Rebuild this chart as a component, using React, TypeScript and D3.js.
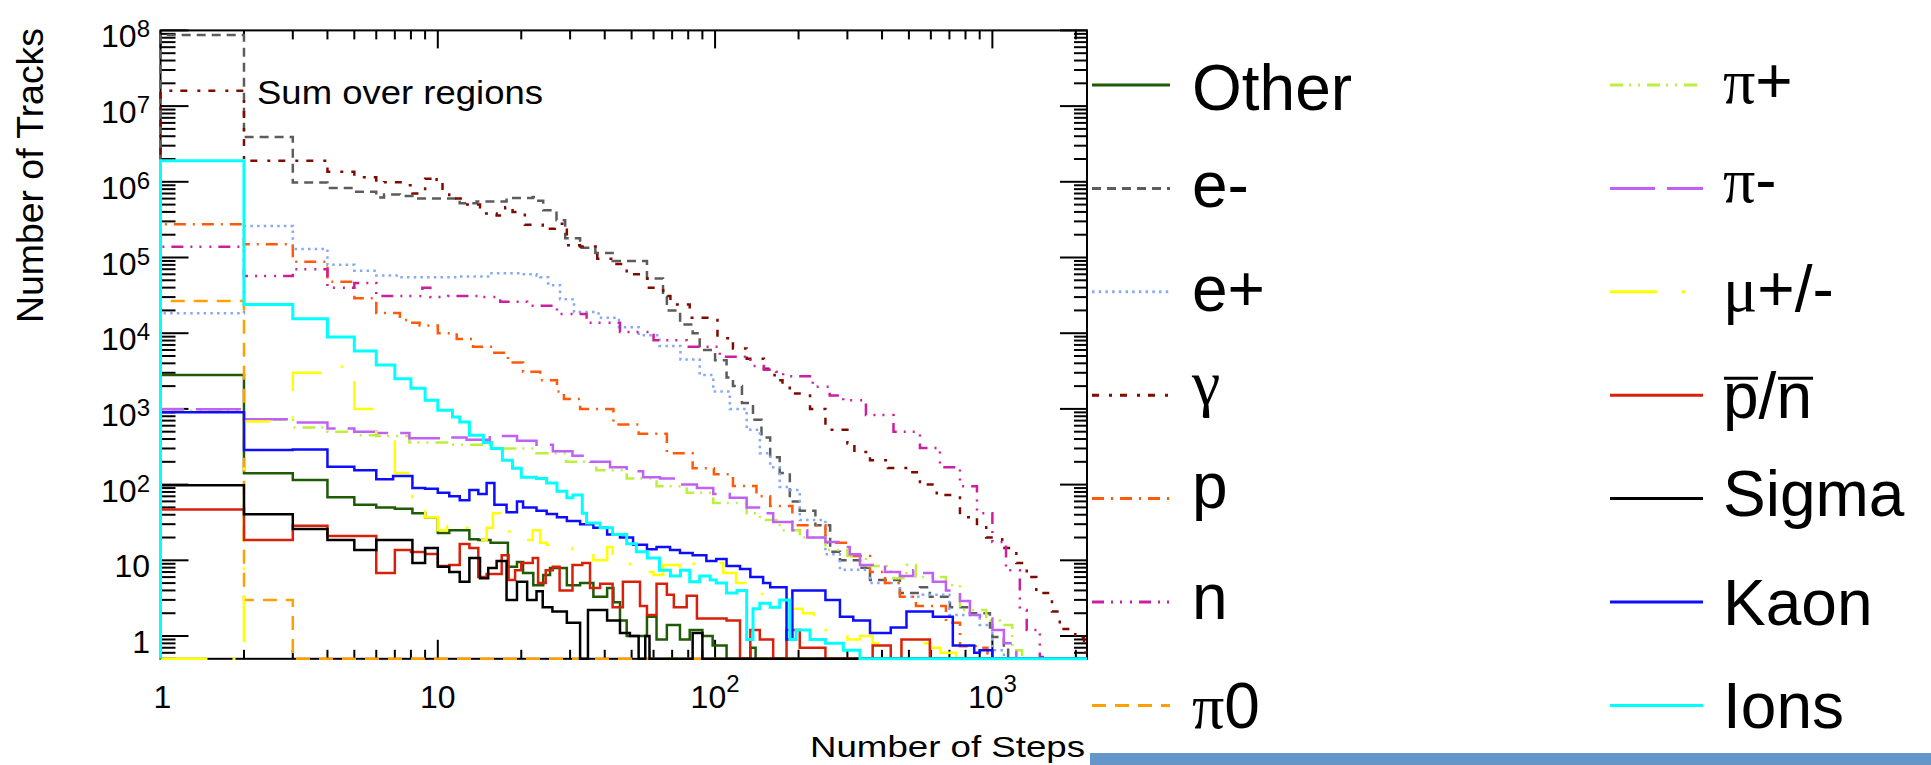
import React from 'react';
import * as d3 from 'd3';

type Pt = [number, number];

// ---------- axis domains & ticks ----------
const X_MIN = 1;
const X_MAX = 2194;
const Y_MIN = 0.5;
const Y_MAX = 1e8;
const xMajorLabels: [number, string, string][] = [[1, '1', ''], [10, '10', ''], [100, '10', '2'], [1000, '10', '3']];
const yMajorLabels: [number, string, string][] = [
  [1, '1', ''], [10, '10', ''], [1e2, '10', '2'], [1e3, '10', '3'], [1e4, '10', '4'],
  [1e5, '10', '5'], [1e6, '10', '6'], [1e7, '10', '7'], [1e8, '10', '8'],
];

// ---------- series (bin start, tracks) ----------
const other: Pt[] = [[1,2.8e3],[2,141],[3,115],[4,68],[5,54],[6,50],[7,48],[8.1,42],[9,37],[10,23],[11,25],[13,19],[14,18.5],[15.5,17],[17.9,8.2],[19.3,9.5],[20.3,6.8],[22.1,4.7],[24,6.4],[25.4,7.9],[29.2,4.7],[32.6,5],[36.4,3.3],[40.8,4.3],[43,2.8],[45.4,1.6],[48,1],[56.8,1.8],[61.5,0.9],[67,1.4],[74.7,0.9],[81,1.2],[90,1],[98,0.75],[110,0],[134,0.7],[140,0]];
const eMinus: Pt[] = [[1,8.7e7],[2,3.9e6],[3,9.8e5],[4,8.3e5],[5,7.4e5],[6,6.2e5],[6.4,6.8e5],[7.3,6.5e5],[8.1,6.0e5],[12,5.2e5],[13.8,5.5e5],[17.7,6.1e5],[22,6.3e5],[22.7,5.6e5],[24,4.2e5],[26.8,3.1e5],[28.8,1.8e5],[32.6,1.35e5],[37,1.15e5],[42.7,9.0e4],[56.8,5.3e4],[64.9,3.0e4],[67,2.0e4],[74.8,1.3e4],[83,1.0e4],[88,6.0e3],[100,4.4e3],[110,2.6e3],[116,2.0e3],[125,1.2e3],[137,720],[147,420],[158,230],[171,142],[186,60],[202,45],[230,29],[260,13],[282,10],[333,8],[362,5.5],[393,5.5],[464,3.7],[548,4.4],[595,3.3],[703,2.4],[830,2.0],[902,2.0],[980,1.3],[1000,0.97],[1100,0.7],[1140,0]];
const ePlus: Pt[] = [[1,1.83e4],[2,2.6e5],[3,1.3e5],[4,8.0e4],[5,6.7e4],[6,5.8e4],[7.3,5.5e4],[12,5.6e4],[15.4,6.2e4],[19.8,6.0e4],[22.7,5.8e4],[23.4,5.5e4],[25,4.3e4],[27.6,2.8e4],[31,1.9e4],[38,1.6e4],[45,1.2e4],[53,9.4e3],[63,6.8e3],[75,4.5e3],[88,2.8e3],[98.5,1.7e3],[113,1.0e3],[130,530],[145,260],[158,170],[171,93],[186,85],[202,34],[250,12],[282,7.5],[362,5],[464,3.3],[560,3.5],[700,1.9],[900,1.4],[1000,0.65],[1100,0]];
const gamma: Pt[] = [[1,1.6e7],[2,1.9e6],[4,1.36e6],[5,1.15e6],[6,9.6e5],[6.4,9.9e5],[7.8,9.0e5],[8.1,7.0e5],[9,1.1e6],[9.4,1.2e6],[9.9,1.0e6],[10.4,7.4e5],[11,6.0e5],[12.5,5.0e5],[14.2,3.8e5],[16.3,3.6e5],[17.5,4.6e5],[18.6,4.0e5],[20.6,2.7e5],[23.9,2.4e5],[26.4,2.8e5],[29.2,1.45e5],[32.6,1.4e5],[37.6,9.6e4],[43,8.2e4],[48,6.0e4],[57,4.0e4],[65,3.1e4],[69,2.4e4],[81,1.6e4],[102,8.6e3],[116,6.3e3],[130,4.6e3],[150,3.4e3],[158,2.8e3],[164,2.4e3],[175,1.9e3],[186,1.6e3],[220,1.0e3],[250,530],[300,350],[318,270],[362,210],[420,166],[495,146],[548,100],[630,73],[764,37],[880,29],[950,20],[1085,14.5],[1220,9.2],[1330,6],[1440,3.7],[1640,2.1],[1750,1.24],[1990,0.95],[2140,0.6]];
const proton: Pt[] = [[1,2.76e5],[2,1.5e5],[3,8.8e4],[4,4.8e4],[5,2.9e4],[6,1.85e4],[7.3,1.5e4],[7.9,1.37e4],[8.6,1.26e4],[10,1.0e4],[11.7,8.4e3],[13.4,6.6e3],[15.8,5.5e3],[17.9,4.1e3],[20.3,3.1e3],[23.4,2.4e3],[26.9,1.7e3],[28.5,1.35e3],[32.6,1.0e3],[43,620],[53,470],[67,260],[83,165],[99,137],[116,96],[141,70],[158,52],[190,29],[250,17],[306,11.4],[362,7],[410,5],[464,3.3],[530,2.5],[680,1.5],[764,0.73],[870,0.7],[960,0]];
const neutron: Pt[] = [[1,1.39e5],[2,5.7e4],[3,7.0e4],[4,4.0e4],[5,4.6e4],[6,3.1e4],[8.8,4.0e4],[9.4,3.0e4],[10.9,3.1e4],[14.2,3.0e4],[16.8,2.6e4],[21,2.3e4],[26.9,1.8e4],[34.4,1.37e4],[45.4,1.04e4],[60,8.1e3],[79,6.6e3],[104,4.9e3],[134,3.7e3],[150,3.3e3],[166,3.1e3],[176,2.7e3],[225,1.96e3],[259,1.5e3],[290,1.3e3],[350,830],[440,500],[548,305],[647,170],[764,95],[880,42],[1000,17.5],[1120,7.4],[1256,2.2],[1330,1.2],[1483,0.53],[1520,0]];
const pi0: Pt[] = [[1,2.66e4],[2,3.0],[3,0]];
const piPlus: Pt[] = [[1,950],[2,720],[3,570],[4,500],[5,450],[6,440],[7.9,360],[10.8,335],[15.4,300],[22.7,260],[29,200],[37.3,155],[48,120],[61.5,95],[79,78],[98.5,57],[130,42],[145,34],[171,25],[202,20],[250,13.7],[300,11.4],[350,8.4],[430,5.8],[490,8.7],[530,6],[680,4.7],[764,2.2],[950,1.6],[1064,1.4],[1180,0.65],[1280,0]];
const piMinus: Pt[] = [[1,990],[2,730],[3,660],[4,550],[5,500],[6,480],[7.9,410],[10.8,420],[12.7,390],[15.4,440],[19.3,380],[22.7,335],[26,275],[30.6,240],[35.4,200],[41.8,170],[48,150],[55,125],[63.3,120],[74.7,100],[86,90],[98.5,75],[113,67],[130,50],[149,42],[162,32],[190,25],[215,20],[250,17.5],[282,15],[306,12],[333,8.7],[370,8.2],[410,7],[464,6.2],[518,7.4],[548,6.8],[610,5.2],[680,4],[764,2.9],[830,1.9],[902,1.7],[1000,1.2],[1100,0.8],[1220,0]];
const muon: Pt[] = [[1,0],[2,680],[3,3.0e3],[4,3.6e3],[5,1.0e3],[6,370],[7,142],[8.1,68],[9,37],[10,25],[10.8,31],[11.8,27],[13,22],[13.8,18.5],[15,27],[15.8,42],[16.8,34],[17.7,24],[19.8,18.5],[22,25],[23.4,17],[24.7,16],[27,14.5],[30.6,14],[32.6,12.5],[36.4,10],[40.8,15],[42.7,11],[49.3,8],[53.6,7],[60,6.4],[65,8.7],[74.7,7],[79,9],[96,9.2],[107,6.8],[119,5],[132,4],[145,3.6],[171,3],[186,2.3],[207,2],[227,1.6],[250,1.2],[300,0.9],[333,1],[370,0.8],[410,0.7],[520,0.8],[600,0.7],[650,0.6],[740,0]];
const antiNucleon: Pt[] = [[1,47],[2,18.5],[3,28.6],[4,21],[6,6.8],[7,13.7],[8,12.9],[9,12.1],[10,8.4],[11,8.7],[12,16.4],[13,14.5],[14,6],[15,6.6],[17,11.7],[18,5.5],[19,7.4],[20,9.2],[22,10.7],[23,5],[24.5,7.4],[26,8.2],[27.5,4],[30.6,8.7],[33.2,9.2],[35.4,4.3],[38.5,4.9],[42.7,2.4],[46.5,5.2],[53.6,2.5],[56.8,1.9],[61.5,4.9],[67,3.5],[71,2.4],[79,3.4],[86,1.7],[110,1.6],[123,0],[134,1.2],[145,0.9],[162,0],[181,1.2],[202,0.7],[250,0],[370,0.75],[430,0],[470,0.9],[595,0]];
const sigma: Pt[] = [[1,98],[2,40.6],[3,26],[4,18.5],[5,13.7],[6,18.5],[8.1,9.2],[9,14.5],[10,8.2],[11,7],[12,5.2],[13,10.7],[14.2,5.8],[15.2,7.9],[16.3,9.8],[17.7,3],[19.3,5.2],[21,3],[22.7,3.9],[23.9,2.4],[25.9,2.1],[29.2,1.5],[32.6,0],[34.8,2.2],[40.8,1.6],[45.4,1.1],[49.3,1],[53,0],[56,1],[58,0],[83,1.1],[90,0]];
const kaon: Pt[] = [[1,900],[2,286],[3,290],[4,172],[5,155],[6,118],[6.9,130],[8.1,90],[9,88],[10,78],[11,70],[12,62],[13,85],[14,75],[15,105],[16,54],[17.7,43],[19.3,60],[20.3,50],[22.7,45],[24.7,41],[26.9,37],[29.2,33],[32.6,30],[36.4,27],[40.8,22],[45.4,20],[50.6,16],[56.8,14],[61.5,15],[68.8,13.7],[74.7,12.5],[83,11.7],[93,9.8],[101,10.4],[110,8.4],[123,7.7],[134,6],[149,5],[158,4.4],[181,0.9],[190,4],[250,3],[282,1.8],[315,1.6],[362,1.1],[430,1.3],[490,2.1],[610,1.8],[720,0.75],[860,0.6],[900,0.65],[1000,0]];
const ions: Pt[] = [[1,1.9e6],[2,2.4e4],[3,1.55e4],[4,8.9e3],[5,5.8e3],[6,3.8e3],[7,2.5e3],[8,1.88e3],[9,1.3e3],[10,960],[11.3,780],[12,670],[13,450],[14.6,360],[15.6,300],[17.1,210],[18.6,165],[20,125],[22.7,120],[24.7,105],[26.9,82],[29.2,67],[30.7,73],[33.2,42],[34.4,31],[38.5,27],[42.7,22],[48,16.5],[52,13],[57,10.7],[63,7.4],[69,6.2],[75,7.4],[81,5.2],[88,6.2],[96,5.5],[101,5],[110,3.7],[120,4],[130,0.9],[137,2.3],[145,2.7],[158,2.4],[171,3],[186,0.9],[196,1.2],[220,0.9],[250,0.8],[290,0.65],[333,0]];

// ---------- styles ----------
type Series = { data: Pt[]; color: string; dash: string; width: number };
const SERIES: Series[] = [
  { data: other, color: '#1f5a05', dash: '', width: 2.5 },
  { data: eMinus, color: '#5c5c5c', dash: '9,6', width: 2.5 },
  { data: ePlus, color: '#86a9f5', dash: '2.5,4.2', width: 2.5 },
  { data: gamma, color: '#7d0b00', dash: '7,10,3,8', width: 2.5 },
  { data: proton, color: '#ff5a0a', dash: '12,7,2,7', width: 2.5 },
  { data: neutron, color: '#cc1f9c', dash: '12,7,2,7,2,8,2,7', width: 2.5 },
  { data: pi0, color: '#ffa000', dash: '14,9', width: 2.5 },
  { data: piPlus, color: '#bdf03c', dash: '13,6,2,7,2,7', width: 2.5 },
  { data: piMinus, color: '#c060f5', dash: '45,12', width: 2.5 },
  { data: muon, color: '#ffff00', dash: '47,25,3,25', width: 2.5 },
  { data: antiNucleon, color: '#d8200a', dash: '', width: 2.5 },
  { data: sigma, color: '#000000', dash: '', width: 2.5 },
  { data: kaon, color: '#0d0dff', dash: '', width: 2.5 },
  { data: ions, color: '#00ffff', dash: '', width: 3 },
];

type LabelPart = { t: string; greek?: boolean };
type LegendItem = { parts: LabelPart[]; s: number; off: number };
const legendLeftItems: LegendItem[] = [
  { parts: [{ t: 'Other' }], s: 0, off: 25 },
  { parts: [{ t: 'e-' }], s: 1, off: 19 },
  { parts: [{ t: 'e+' }], s: 2, off: 19 },
  { parts: [{ t: 'γ', greek: true }], s: 3, off: 9 },
  { parts: [{ t: 'p' }], s: 4, off: 9 },
  { parts: [{ t: 'n' }], s: 5, off: 17 },
  { parts: [{ t: 'π', greek: true }, { t: '0' }], s: 6, off: 23 },
];
const legendRightItems: LegendItem[] = [
  { parts: [{ t: 'π', greek: true }, { t: '+' }], s: 7, off: 18 },
  { parts: [{ t: 'π', greek: true }, { t: '-' }], s: 8, off: 14 },
  { parts: [{ t: 'μ', greek: true }, { t: '+/-' }], s: 9, off: 19 },
  { parts: [{ t: 'p/n' }], s: 10, off: 23 },
  { parts: [{ t: 'Sigma' }], s: 11, off: 17 },
  { parts: [{ t: 'Kaon' }], s: 12, off: 23 },
  { parts: [{ t: 'Ions' }], s: 13, off: 23 },
];

const SANS = '"Liberation Sans", Arial, Helvetica, sans-serif';
const SERIF = '"Liberation Serif", "Times New Roman", serif';

export default function App() {
  const W = 1931;
  const H = 765;
  const left = 160.5, right = 1087, top = 30.4, bottom = 658.8;
  const x = d3.scaleLog().domain([X_MIN, X_MAX]).range([left, right]);
  const y = d3.scaleLog().domain([Y_MIN, Y_MAX]).range([bottom, top]);

  const line = d3
    .line<Pt>()
    .x((d) => x(d[0]))
    .y((d) => y(Math.max(d[1], Y_MIN)))
    .curve(d3.curveStepAfter);

  const histPath = (data: Pt[]) => {
    const pts: Pt[] = [[data[0][0], 0], ...data, [X_MAX, data[data.length - 1][1]]];
    return line(pts) || '';
  };

  // ticks
  const xTicks: { v: number; major: boolean }[] = [];
  for (let k = 0; k <= 3; k++)
    for (let m = 1; m <= 9; m++) {
      const v = m * Math.pow(10, k);
      if (v <= X_MAX) xTicks.push({ v, major: m === 1 });
    }
  const yTicks: { v: number; major: boolean }[] = [];
  for (let k = -1; k <= 8; k++)
    for (let m = 1; m <= 9; m++) {
      const v = m * Math.pow(10, k);
      if (v >= Y_MIN && v <= Y_MAX) yTicks.push({ v, major: m === 1 });
    }

  const rowY = (i: number) => 85 + i * 103.4;

  const renderLegend = (items: LegendItem[], lx0: number, lx1: number, tx: number) =>
    items.map((it, i) => {
      const s = SERIES[it.s];
      const ly = rowY(i);
      return (
        <g key={`lg-${lx0}-${i}`}>
          <line x1={lx0} x2={lx1} y1={ly} y2={ly} stroke={s.color} strokeWidth={3} strokeDasharray={s.dash || undefined} />
          <text x={tx} y={ly + it.off} fontFamily={SANS} fontSize={64} fill="#000">
            {it.parts.map((p, j) => (
              <tspan key={j} fontFamily={p.greek ? SERIF : SANS}>{p.t}</tspan>
            ))}
          </text>
        </g>
      );
    });

  return (
    <svg width={W} height={H} style={{ position: 'absolute', left: 0, top: 0, display: 'block', background: '#fff' }}>
      <rect x={0} y={0} width={W} height={H} fill="#fff" />
      <defs>
        <clipPath id="plotClip">
          <rect x={left - 2} y={top - 2} width={right - left + 4} height={bottom - top + 4} />
        </clipPath>
      </defs>

      {/* frame */}
      <rect x={left} y={top} width={right - left} height={bottom - top} fill="none" stroke="#000" strokeWidth={2} />

      {/* x ticks bottom & top */}
      {xTicks.map((t, i) => (
        <g key={`xt${i}`} stroke="#000" strokeWidth={2}>
          <line x1={x(t.v)} x2={x(t.v)} y1={bottom} y2={bottom - (t.major ? 19 : 9)} />
          <line x1={x(t.v)} x2={x(t.v)} y1={top} y2={top + (t.major ? 18 : 9)} />
        </g>
      ))}
      {/* y ticks left & right */}
      {yTicks.map((t, i) => (
        <g key={`yt${i}`} stroke="#000" strokeWidth={2}>
          <line x1={left} x2={left + (t.major ? 28 : 15)} y1={y(t.v)} y2={y(t.v)} />
          <line x1={right} x2={right - (t.major ? 27 : 13)} y1={y(t.v)} y2={y(t.v)} />
        </g>
      ))}

      {/* tick labels */}
      {yMajorLabels.map(([v, b, e]) => (
        <text key={`yl${v}`} x={150} y={y(v) + 17} textAnchor="end" fontFamily={SANS} fontSize={32}>
          {b}
          {e && <tspan dy={-10} fontSize={24}>{e}</tspan>}
        </text>
      ))}
      {xMajorLabels.map(([v, b, e]) => (
        <text key={`xl${v}`} x={x(v) + (v === 1 ? 2 : 0)} y={708} textAnchor="middle" fontFamily={SANS} fontSize={32}>
          {b}
          {e && <tspan dy={-16} fontSize={24}>{e}</tspan>}
        </text>
      ))}

      {/* axis titles */}
      <text
        transform="translate(43,175.5) rotate(-90)"
        textAnchor="middle"
        fontFamily={SANS}
        fontSize={37}
        textLength={295}
        lengthAdjust="spacingAndGlyphs"
      >
        Number of Tracks
      </text>
      <text x={810} y={757} fontFamily={SANS} fontSize={30} textLength={275} lengthAdjust="spacingAndGlyphs">
        Number of Steps
      </text>
      <text x={257} y={104} fontFamily={SANS} fontSize={33} textLength={286} lengthAdjust="spacingAndGlyphs">
        Sum over regions
      </text>

      {/* histograms */}
      <g clipPath="url(#plotClip)" fill="none">
        {SERIES.map((s, i) => (
          <path
            key={`s${i}`}
            d={histPath(s.data)}
            stroke={s.color}
            strokeWidth={s.width}
            strokeDasharray={s.dash || undefined}
            strokeLinejoin="miter"
            strokeLinecap="butt"
          />
        ))}
      </g>

      {/* legend */}
      {renderLegend(legendLeftItems, 1092, 1170, 1192)}
      {renderLegend(legendRightItems, 1610, 1703, 1723)}
      {/* overbars for anti-nucleon label */}
      <line x1={1724} x2={1758} y1={rowY(3) - 17} y2={rowY(3) - 17} stroke="#000" strokeWidth={3} />
      <line x1={1778} x2={1813} y1={rowY(3) - 17} y2={rowY(3) - 17} stroke="#000" strokeWidth={3} />

      {/* slide accent bar */}
      <rect x={1090} y={753} width={W - 1090} height={12} fill="#6496c9" />
    </svg>
  );
}
